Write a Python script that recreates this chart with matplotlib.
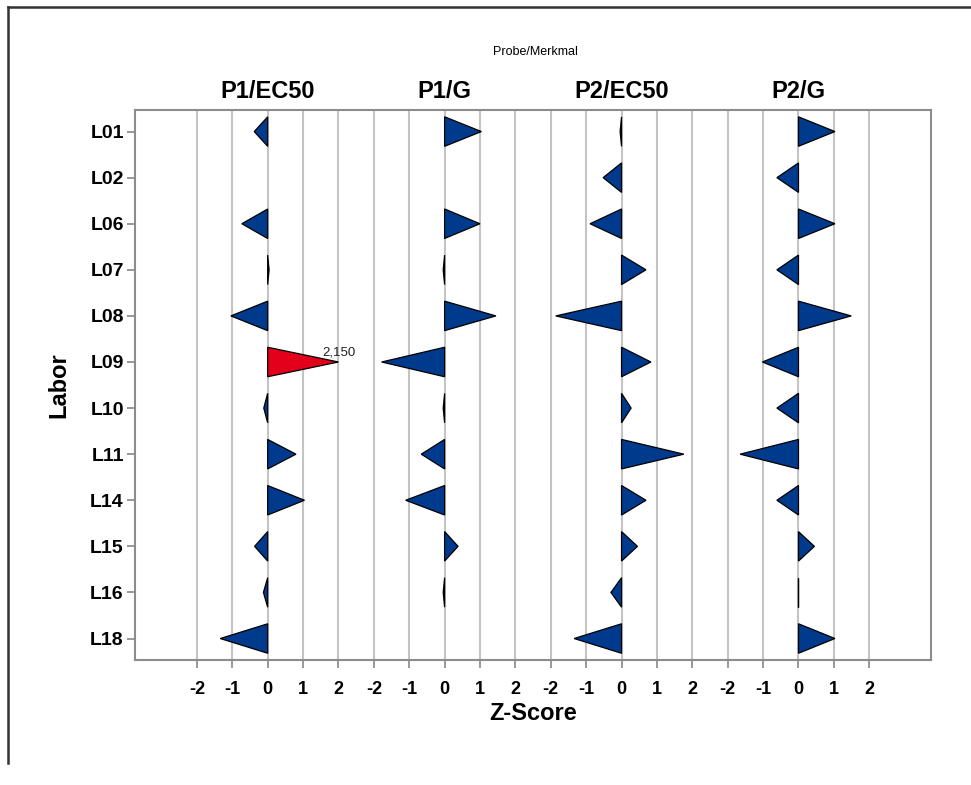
import numpy as np
import matplotlib
matplotlib.use('Agg')
import matplotlib.pyplot as plt
from matplotlib.lines import Line2D

# %% Data
labs = ['L01', 'L02', 'L06', 'L07', 'L08', 'L09', 'L10', 'L11', 'L14', 'L15', 'L16', 'L18']
panels = ['P1/EC50', 'P1/G', 'P2/EC50', 'P2/G']
nan = np.nan
p1_ec50 = [-0.38, nan, -0.73, 0.04, -1.04, 2.15, -0.11, 0.80, 1.04, -0.37, -0.12, -1.34]
p1_g = [1.04, nan, 1.00, -0.04, 1.45, -1.78, -0.04, -0.66, -1.10, 0.38, -0.04, nan]
p2_ec50 = [-0.04, -0.52, -0.89, 0.69, -1.86, 0.83, 0.27, 1.76, 0.69, 0.45, -0.30, -1.34]
p2_g = [1.03, -0.61, 1.03, -0.61, 1.49, -1.02, -0.61, -1.65, -0.61, 0.45, 0.0, 1.03]
zticks = [-2, -1, 0, 1, 2]

# %% Style
plt.rcParams['font.family'] = ['Liberation Sans Narrow', 'Liberation Sans', 'DejaVu Sans']
blue = '#003a8c'
red = '#e2001a'
half_h = 0.32
limit = 2.0
step = 5  # panel spacing in z units

fig = plt.figure(figsize=(9.71, 7.85), dpi=100)
ax = fig.add_axes([0.139, 0.159, 0.820, 0.701])

# %% Triangles (values beyond +-2 drawn red and capped, with the real value written)
all_series = [p1_ec50, p1_g, p2_ec50, p2_g]
for k, series in enumerate(all_series):
    off = k * step
    for i, v in enumerate(series):
        if np.isnan(v):
            continue
        out = abs(v) > limit
        vc = np.clip(v, -limit, limit)
        ax.fill([off, off + vc, off], [i - half_h, i, i + half_h],
                facecolor=red if out else blue, edgecolor='black', linewidth=0.9, zorder=3)
        if out:
            ax.text(off + vc, i - 0.08, ('%.3f' % v).replace('.', ','), ha='center', va='bottom',
                    fontsize=9.5, color='#222222', zorder=4)

# %% Axes
xt = []
xl = []
for k in range(len(panels)):
    for t in zticks:
        xt.append(k * step + t)
        xl.append(str(t))
ax.set_xticks(xt)
ax.set_xticklabels(xl, fontsize=13, fontweight='bold')
ax.set_xlim(-3.75, (len(panels) - 1) * step + 3.75)
ax.grid(axis='x', color='#c4c4c4', linewidth=1.5, zorder=0)
ax.set_axisbelow(True)

ax.set_yticks(range(len(labs)))
ax.set_yticklabels(labs, fontsize=14, fontweight='bold')
ax.set_ylim(len(labs) - 0.53, -0.47)

ax.tick_params(axis='both', length=6, width=1.2, color='#888888')
ax.tick_params(axis='x', pad=9)
ax.tick_params(axis='y', pad=2)
for s in ax.spines.values():
    s.set_color('#8c8c8c')
    s.set_linewidth(1.5)

ax.set_xlabel('Z-Score', fontsize=17, fontweight='bold', labelpad=3)
ax.set_ylabel('Labor', fontsize=17, fontweight='bold', labelpad=14)

# panel titles
for k, name in enumerate(panels):
    ax.text(k * step, -0.62, name, ha='center', va='bottom', fontsize=17, fontweight='bold')
fig.text(0.551, 0.934, 'Probe/Merkmal', ha='center', va='center', fontsize=9)

# outer frame lines (top and left)
fig.add_artist(Line2D([8 / 971, 1.0], [1 - 7 / 785, 1 - 7 / 785], color='#333333', linewidth=1.8,
                      transform=fig.transFigure))
fig.add_artist(Line2D([8 / 971, 8 / 971], [1 - 7 / 785, 1 - 763 / 785], color='#333333', linewidth=1.8,
                      transform=fig.transFigure))

fig.savefig('out.png', dpi=100)
